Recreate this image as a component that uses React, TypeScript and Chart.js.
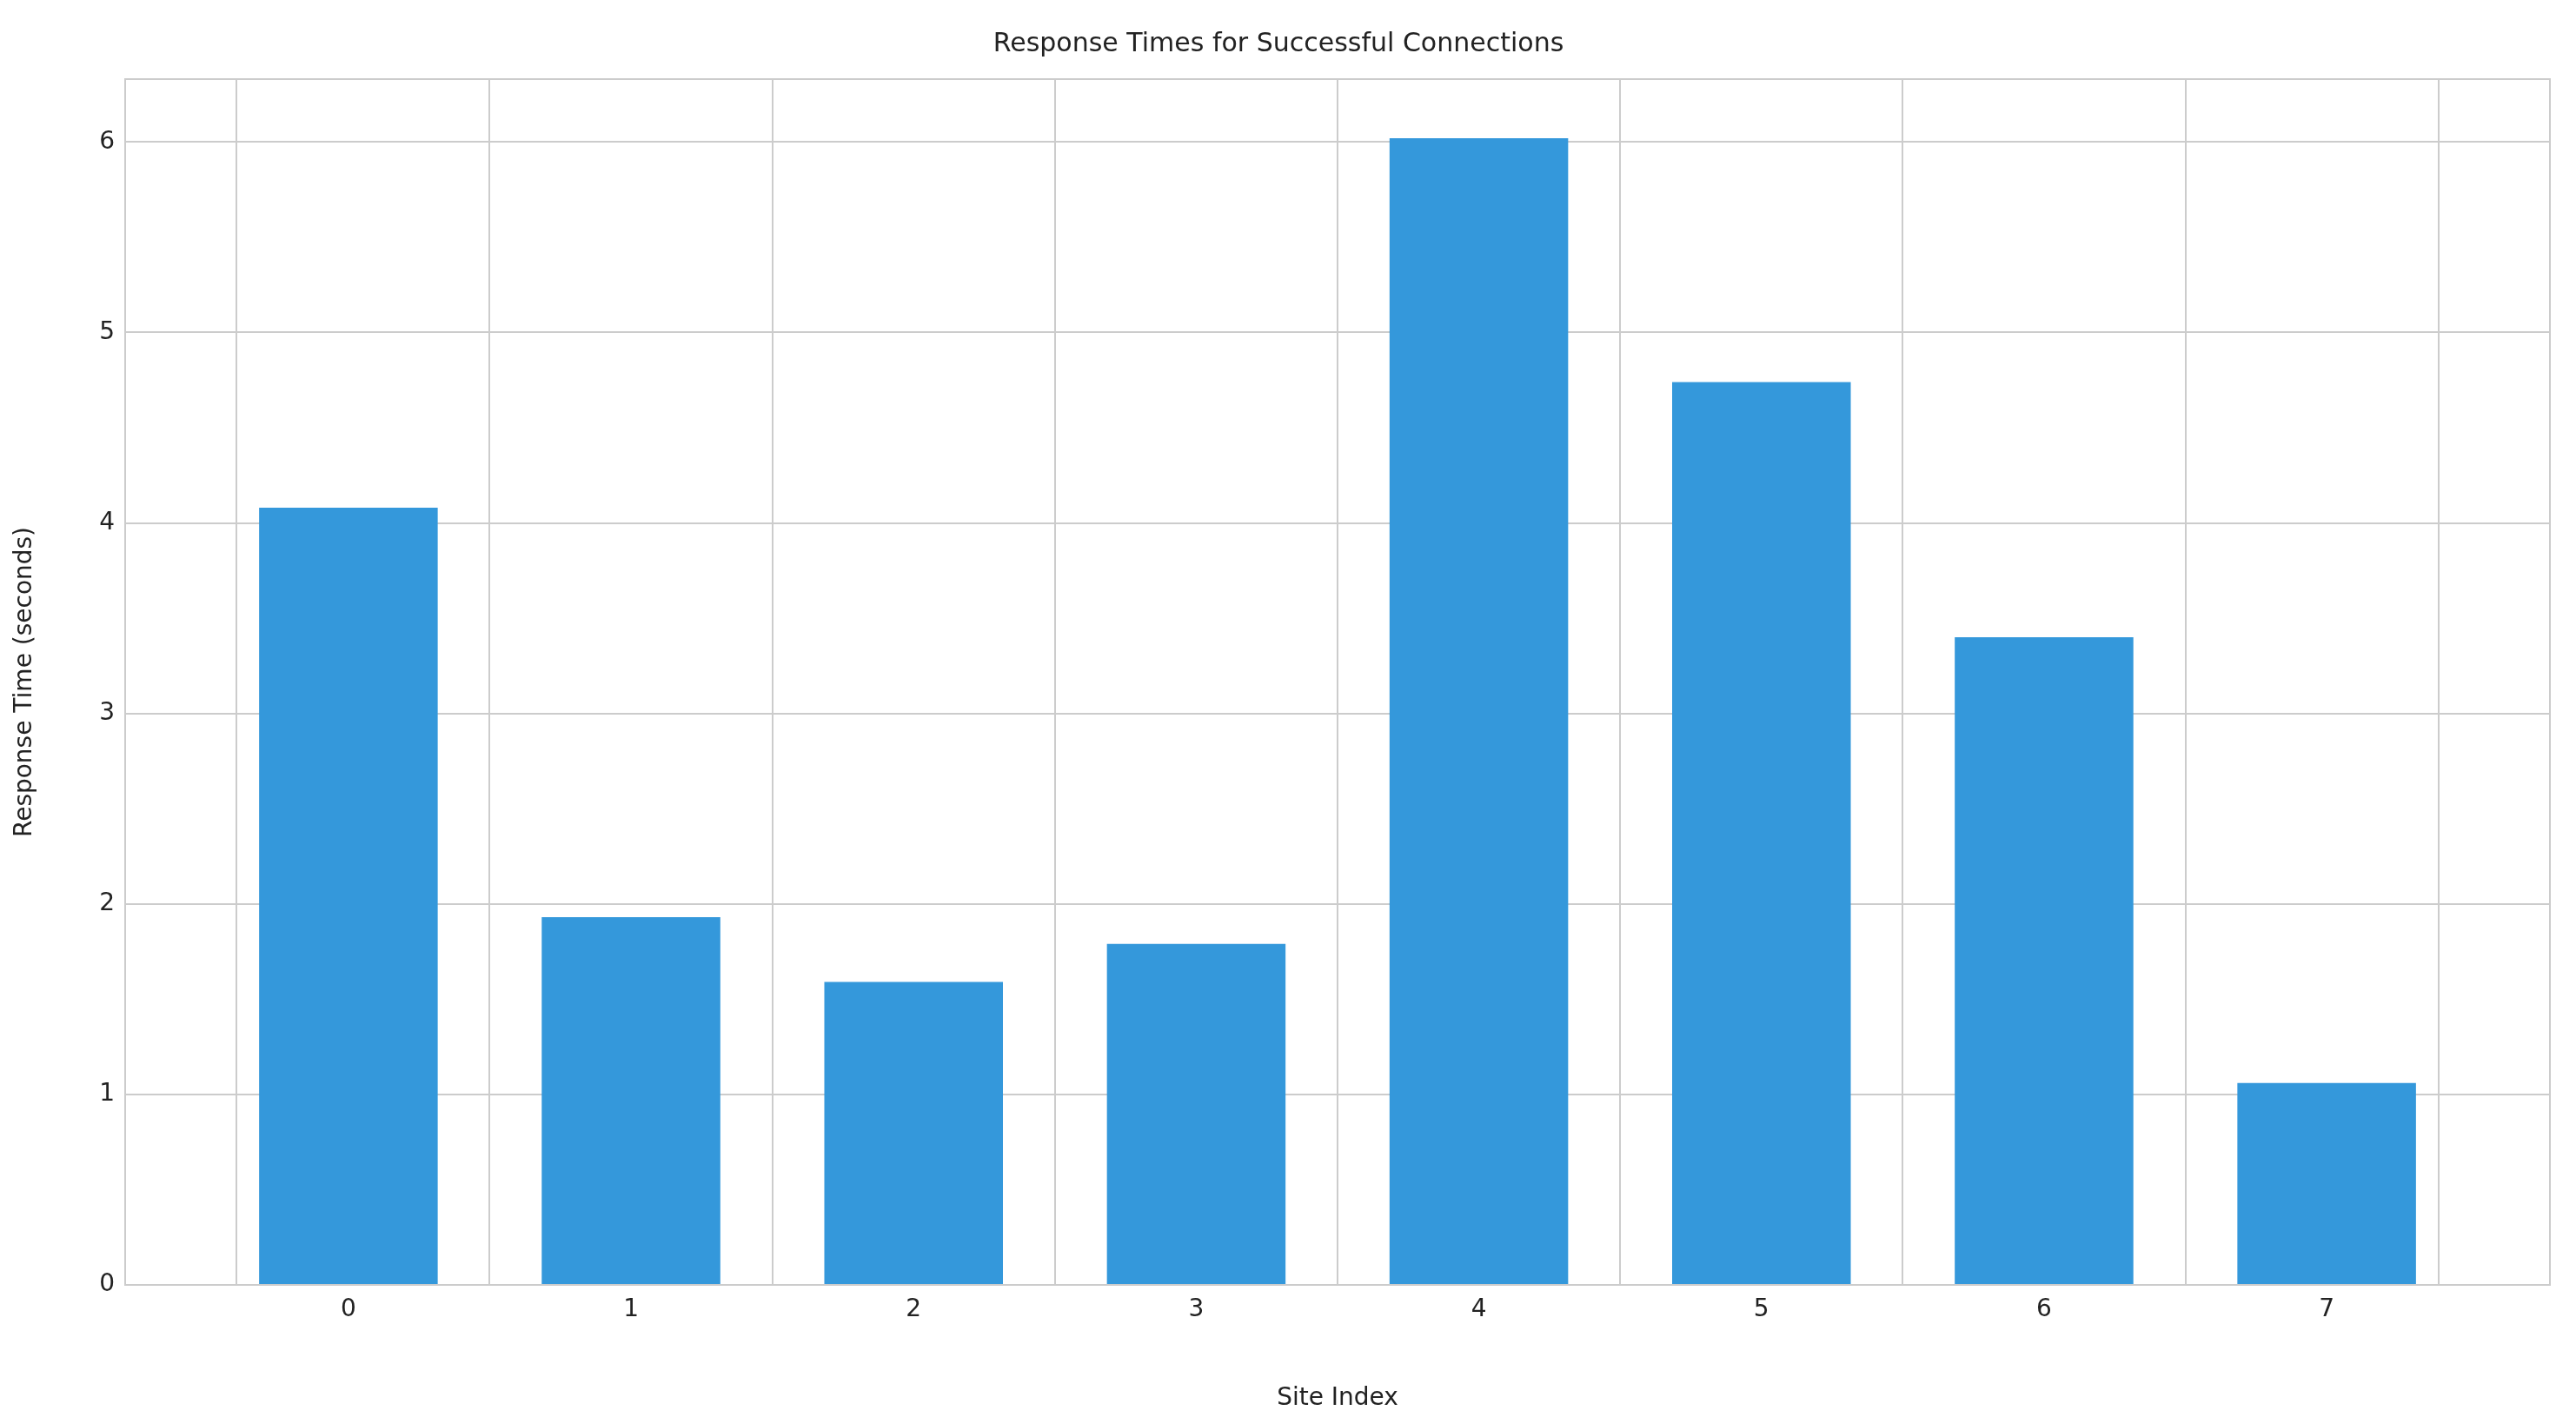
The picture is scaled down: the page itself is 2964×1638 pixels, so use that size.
import React, { useEffect, useRef } from "react";
import { Chart, registerables } from "chart.js";
Chart.register(...registerables);

const siteIndex = [0, 1, 2, 3, 4, 5, 6, 7];
const responseTimes = [4.08, 1.93, 1.59, 1.79, 6.02, 4.74, 3.4, 1.06];

const frame = {
  id: "frame",
  afterDatasetsDraw(chart: any) {
    const { ctx, chartArea: a } = chart;
    ctx.save();
    ctx.strokeStyle = "#cccccc";
    ctx.lineWidth = 2;
    ctx.strokeRect(a.left, a.top, a.right - a.left, a.bottom - a.top);
    ctx.restore();
  },
};

export default function App() {
  const ref = useRef<HTMLCanvasElement>(null);
  useEffect(() => {
    const font = { family: "DejaVu Sans", size: 28 };
    const chart = new Chart(ref.current!, {
      type: "bar",
      data: {
        datasets: [
          {
            data: siteIndex.map((x, i) => ({ x, y: responseTimes[i] })),
            backgroundColor: "#3498db",
            barPercentage: 0.8,
            categoryPercentage: 1,
          },
        ],
      },
      options: {
        animation: false,
        responsive: false,
        layout: { padding: { right: 22, left: 0, top: 0, bottom: 0 } },
        plugins: {
          legend: { display: false },
          tooltip: { enabled: false },
          title: {
            display: true,
            text: "Response Times for Successful Connections",
            color: "#222",
            font: { family: "DejaVu Sans", size: 30, weight: "normal" },
            padding: { top: 25, bottom: 22 },
          },
        },
        scales: {
          x: {
            type: "linear",
            min: -0.79,
            max: 7.79,
            offset: false,
            ticks: { stepSize: 1, color: "#222", font, padding: 12, callback: (v: any) => (Number.isInteger(v) ? String(v) : "") },
            grid: { color: "#cccccc", lineWidth: 2, drawTicks: false },
            border: { display: false },
            title: { display: true, text: "Site Index", color: "#222", font, padding: { top: 8 } },
            afterFit: (s: any) => { s.height = 152; },
          },
          y: {
            min: 0,
            max: 6.33,
            ticks: { stepSize: 1, color: "#222", font, padding: 12, callback: (v: any) => (Number.isInteger(v) ? String(v) : "") },
            grid: { color: "#cccccc", lineWidth: 2, drawTicks: false },
            border: { display: false },
            title: { display: true, text: "Response Time (seconds)", color: "#222", font, padding: { bottom: 10 } },
            afterFit: (s: any) => { s.width = 136; },
          },
        },
      },
      plugins: [frame],
    } as any);
    return () => chart.destroy();
  }, []);
  return (
    <div style={{ width: 2948, height: 1622 }}>
      <canvas ref={ref} width={2948} height={1622} style={{ width: 2948, height: 1622 }} />
    </div>
  );
}
